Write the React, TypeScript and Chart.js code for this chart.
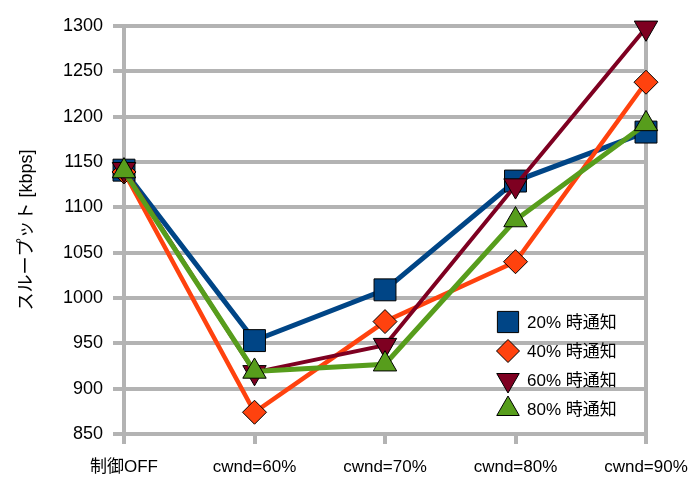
import React, { useEffect, useRef } from 'react';
import { Chart, registerables } from 'chart.js';
import { drawPoint } from 'chart.js/helpers';

Chart.register(...registerables);

const categories = ['制御OFF', 'cwnd=60%', 'cwnd=70%', 'cwnd=80%', 'cwnd=90%'];
const seriesNames = ['20% 時通知', '40% 時通知', '60% 時通知', '80% 時通知'];
const s20 = [1141, 953, 1009, 1129, 1183];
const s40 = [1139, 874, 974, 1040, 1238];
const s60 = [1142, 918, 948, 1124, 1298];
const s80 = [1140, 919, 927, 1086, 1192];
const yMin = 850;
const yMax = 1300;
const yStep = 50;

const FONT = "'Liberation Sans', 'Noto Sans CJK JP', sans-serif";
const GRID = '#b3b3b3';

const styles = [
  { color: '#004586', pointStyle: 'rect', rotation: 0, radius: 15.5, lineWidth: 5, legendRadius: 15 },
  { color: '#ff420e', pointStyle: 'rectRot', rotation: 0, radius: 12, lineWidth: 4.5, legendRadius: 11.5 },
  { color: '#7e0021', pointStyle: 'triangle', rotation: 180, radius: 13.5, lineWidth: 4, legendRadius: 13 },
  { color: '#579d1c', pointStyle: 'triangle', rotation: 0, radius: 13.5, lineWidth: 5, legendRadius: 13 },
];

const legendPlugin = {
  id: 'insideLegend',
  afterDatasetsDraw(chart: any) {
    const ctx = chart.ctx;
    const x0 = 508;
    const ys = [322, 351, 380, 409];
    ctx.save();
    seriesNames.forEach((name, i) => {
      const st = styles[i];
      ctx.fillStyle = st.color;
      ctx.strokeStyle = '#000';
      ctx.lineWidth = 1;
      drawPoint(ctx, { pointStyle: st.pointStyle, rotation: st.rotation, radius: st.legendRadius, borderWidth: 1 } as any, x0, ys[i]);
      ctx.fillStyle = '#000';
      ctx.font = `17px ${FONT}`;
      ctx.textBaseline = 'middle';
      ctx.textAlign = 'left';
      ctx.fillText(name, 527, ys[i] + 1);
    });
    ctx.restore();
  },
};

export default function App() {
  const ref = useRef<HTMLCanvasElement | null>(null);
  useEffect(() => {
    if (!ref.current) return;
    const data = [s20, s40, s60, s80];
    const orders = [3, 2, 1, 0];
    const chart = new Chart(ref.current, {
      type: 'line',
      data: {
        labels: categories,
        datasets: data.map((d, i) => ({
          label: seriesNames[i],
          data: d,
          borderColor: styles[i].color,
          backgroundColor: styles[i].color,
          borderWidth: styles[i].lineWidth,
          pointStyle: styles[i].pointStyle as any,
          rotation: styles[i].rotation,
          pointRadius: styles[i].radius,
          pointHoverRadius: styles[i].radius,
          pointBackgroundColor: styles[i].color,
          pointBorderColor: '#000',
          pointBorderWidth: 1,
          tension: 0,
          clip: false as any,
          order: orders[i],
        })),
      },
      options: {
        animation: false,
        responsive: true,
        maintainAspectRatio: false,
        layout: { padding: { left: 0, right: 49, top: 26, bottom: 0 } },
        plugins: {
          legend: { display: false },
          tooltip: { enabled: false },
        },
        scales: {
          x: {
            offset: false,
            border: { display: false },
            grid: {
              color: (c: any) => (c.index === 0 || c.index === categories.length - 1 ? GRID : 'rgba(0,0,0,0)'),
              tickColor: GRID,
              lineWidth: 4,
              tickLength: 10,
            },
            ticks: {
              color: '#000',
              font: { family: FONT, size: 17 },
              padding: 13,
              maxRotation: 0,
              autoSkip: false,
            },
            afterFit: (s: any) => {
              s.height = 481 - 434;
              s.paddingLeft = 0;
              s.paddingRight = 0;
            },
          },
          y: {
            min: yMin,
            max: yMax,
            border: { display: false },
            grid: {
              color: GRID,
              lineWidth: 4,
              tickLength: 11,
            },
            ticks: {
              stepSize: yStep,
              color: '#000',
              font: { family: FONT, size: 18 },
              padding: 10,
              callback: (v: any) => String(v),
            },
            title: {
              display: true,
              text: 'スループット [kbps]',
              color: '#000',
              font: { family: FONT, size: 18 },
              padding: { top: 16, bottom: 0 },
            },
            afterFit: (s: any) => {
              s.width = 124;
              s.paddingTop = 0;
              s.paddingBottom = 0;
            },
          },
        },
      },
      plugins: [legendPlugin],
    });
    return () => chart.destroy();
  }, []);
  return (
    <div style={{ position: 'absolute', left: 0, top: 0, width: 695, height: 481, background: '#fff' }}>
      <canvas ref={ref} />
    </div>
  );
}
